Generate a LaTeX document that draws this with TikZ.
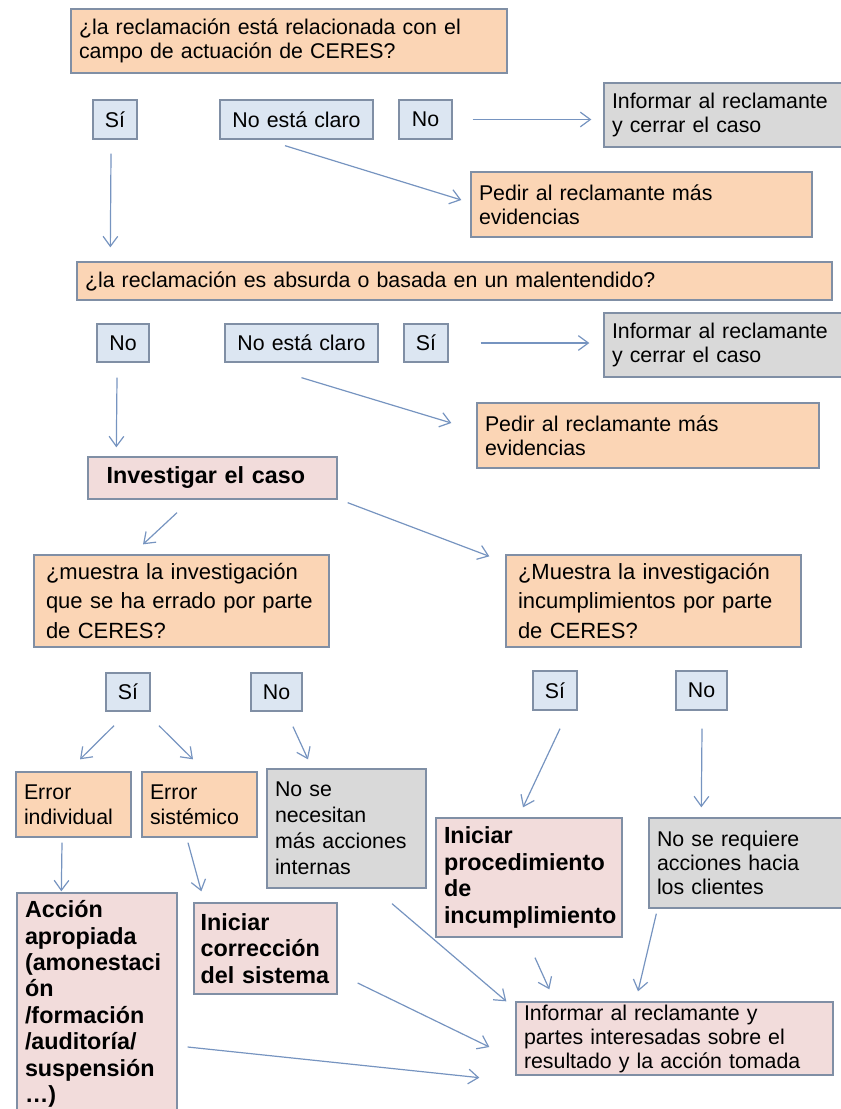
\documentclass[tikz,border=0pt]{standalone}
\usepackage{fontspec}
\setmainfont{Liberation Sans}
\usetikzlibrary{arrows.meta,calc}
\definecolor{qfill}{RGB}{251,213,181}
\definecolor{ansfill}{RGB}{220,230,242}
\definecolor{endfill}{RGB}{217,217,217}
\definecolor{actfill}{RGB}{242,220,219}
\definecolor{edgecol}{RGB}{128,143,165}
\definecolor{arrcol}{RGB}{118,148,192}
\hyphenpenalty=10000

\begin{document}
\begin{tikzpicture}[x=0.75pt,y=0.75pt,yscale=-1,xscale=1,
  sz/.style 2 args={minimum width=#1*0.75pt,minimum height=#2*0.75pt,text width=#1*0.75pt-12pt},
  base/.style={draw=edgecol,line width=1pt,inner sep=0pt,inner xsep=6pt,align=left,font=\fontsize{16}{18}\selectfont},
  qbox/.style={base,fill=qfill},
  ansbox/.style={base,fill=ansfill,align=center},
  endbox/.style={base,fill=endfill},
  actbox/.style={base,fill=actfill},
  actbold/.style={base,fill=actfill,font=\fontsize{17.5}{19.8}\selectfont\bfseries},
  arr/.style={draw=arrcol,line width=0.9pt,-{Straight Barb[length=7.5pt,width=11pt]}}]
\useasboundingbox (0,0) rectangle (840,1109);

% first question
\node[qbox,sz={436}{64}] (q1) at (289,41) {¿la reclamación está relacionada con el\\campo de actuación de CERES?};
\node[ansbox,sz={44}{39}] (si1) at (115,119.5) {Sí};
\node[ansbox,sz={153}{39}] (nc1) at (296.5,119.5) {No está claro};
\node[ansbox,sz={53}{39}] (no1) at (425.5,119.5) {No};
\node[endbox,sz={245}{64}] (inf1) at (726.5,115) {Informar al reclamante\\y cerrar el caso};
\node[qbox,sz={341}{65}] (ped1) at (641.5,204.5) {Pedir al reclamante más\\evidencias};

% second question
\node[qbox,sz={755}{38}] (q2) at (454.5,281) {¿la reclamación es absurda o basada en un malentendido?};
\node[ansbox,sz={52}{38}] (no2) at (123,343) {No};
\node[ansbox,sz={153}{38}] (nc2) at (301.5,343) {No está claro};
\node[ansbox,sz={44}{38}] (si2) at (426,343) {Sí};
\node[endbox,sz={245}{64}] (inf2) at (726.5,345) {Informar al reclamante\\y cerrar el caso};
\node[qbox,sz={342}{65}] (ped2) at (648,435.5) {Pedir al reclamante más\\evidencias};

\node[actbold,sz={249}{42},inner xsep=14pt,text width=249*0.75pt-28pt] (inv) at (212.5,478) {Investigar el caso};

% investigation
\node[qbox,sz={295}{92},inner xsep=9pt,text width=295*0.75pt-18pt,font=\fontsize{16.5}{21.8}\selectfont] (q3) at (181.5,601) {¿muestra la investigación\\que se ha errado por parte\\de CERES?};
\node[qbox,sz={295}{92},inner xsep=9pt,text width=295*0.75pt-18pt,font=\fontsize{16.5}{21.8}\selectfont] (q4) at (653.5,601) {¿Muestra la investigación\\incumplimientos por parte\\de CERES?};
\node[ansbox,sz={44}{38}] (si3) at (128,692) {Sí};
\node[ansbox,sz={51}{38}] (no3) at (276.5,692) {No};
\node[ansbox,sz={44}{39}] (si4) at (555,690.5) {Sí};
\node[ansbox,sz={51}{39}] (no4) at (701.5,690.5) {No};

\node[qbox,sz={115}{65},font=\fontsize{16}{19}\selectfont] (errind) at (73.5,804.5) {Error\\individual};
\node[qbox,sz={115}{65},font=\fontsize{16}{19}\selectfont] (errsis) at (199.5,804.5) {Error\\sistémico};
\node[endbox,sz={159}{119},font=\fontsize{16}{19.5}\selectfont] (nonec) at (346.5,828.5) {No se\\necesitan\\más acciones\\internas};
\node[actbold,sz={186}{119}] (iniproc) at (529,877.5) {Iniciar\\procedimiento\\de\\incumplimiento};
\node[endbox,sz={200}{90}] (noreq) at (749,863) {No se requiere\\acciones hacia\\los clientes};

\node[actbold,sz={160}{222}] (accion) at (97,1004) {Acción\\apropiada\\(amonestaci\\ón\\/formación\\/auditoría/\\suspensión\\…)};
\node[actbold,sz={143}{91},inner xsep=5pt,text width=143*0.75pt-10pt] (inicorr) at (265.5,948.5) {Iniciar\\corrección\\del sistema};
\node[actbox,sz={317}{73}] (final) at (674.5,1038.5) {Informar al reclamante y\\partes interesadas sobre el\\resultado y la acción tomada};

\draw[arr] ($(si1.south)+(-4,14)$) -- ($(q2.north west)+(34,-14)$);
\draw[arr] ($(nc1.south)+(-11.5,6)$) -- ($(ped1.west)+(-9,-4.5)$);
\draw[arr] ($(no1.east)+(20,0)$) -- ($(inf1.west)+(-12,4.5)$);

\draw[arr] ($(no2.south)+(-6,15)$) -- ($(inv.north west)+(29,-9)$);
\draw[arr] ($(nc2.south)+(0,15)$) -- ($(ped2.west)+(-25,-12.5)$);
\draw[arr] ($(si2.east)+(32,0)$) -- ($(inf2.west)+(-14,-2)$);

\draw[arr] ($(inv.south)+(-35.5,13)$) -- ($(q3.north)+(-38.5,-10)$);
\draw[arr] ($(inv.south east)+(10,3)$) -- ($(q4.north west)+(-16,2)$);

\draw[arr] ($(si3.south)+(-14,14)$) -- ($(errind.north)+(6.5,-12)$);
\draw[arr] ($(si3.south)+(31,14)$) -- ($(errsis.north)+(-6.5,-12)$);
\draw[arr] ($(no3.south)+(16.5,15)$) -- ($(nonec.north)+(-38.5,-9)$);
\draw[arr] ($(si4.south)+(5,18)$) -- ($(iniproc.north)+(-6,-10)$);
\draw[arr] ($(no4.south)+(0.5,18)$) -- ($(noreq.north west)+(53,-10)$);

\draw[arr] ($(errind.south)+(-11.5,5)$) -- ($(accion.north west)+(45,-1)$);
\draw[arr] ($(errsis.south)+(-11.5,5)$) -- ($(inicorr.north west)+(8,-11)$);
\draw[arr] ($(nonec.south)+(45.5,15)$) -- ($(final.north west)+(-9,0)$);
\draw[arr] ($(inicorr.east)+(20,34.5)$) -- ($(final.west)+(-26,8.5)$);
\draw[arr] ($(accion.east)+(10,43)$) -- ($(final.south west)+(-36,2)$);
\draw[arr] ($(iniproc.south)+(6,20)$) -- ($(final.north west)+(34,-12)$);
\draw[arr] ($(noreq.south west)+(8,5)$) -- ($(final.north)+(-36.5,-10)$);

\end{tikzpicture}
\end{document}
